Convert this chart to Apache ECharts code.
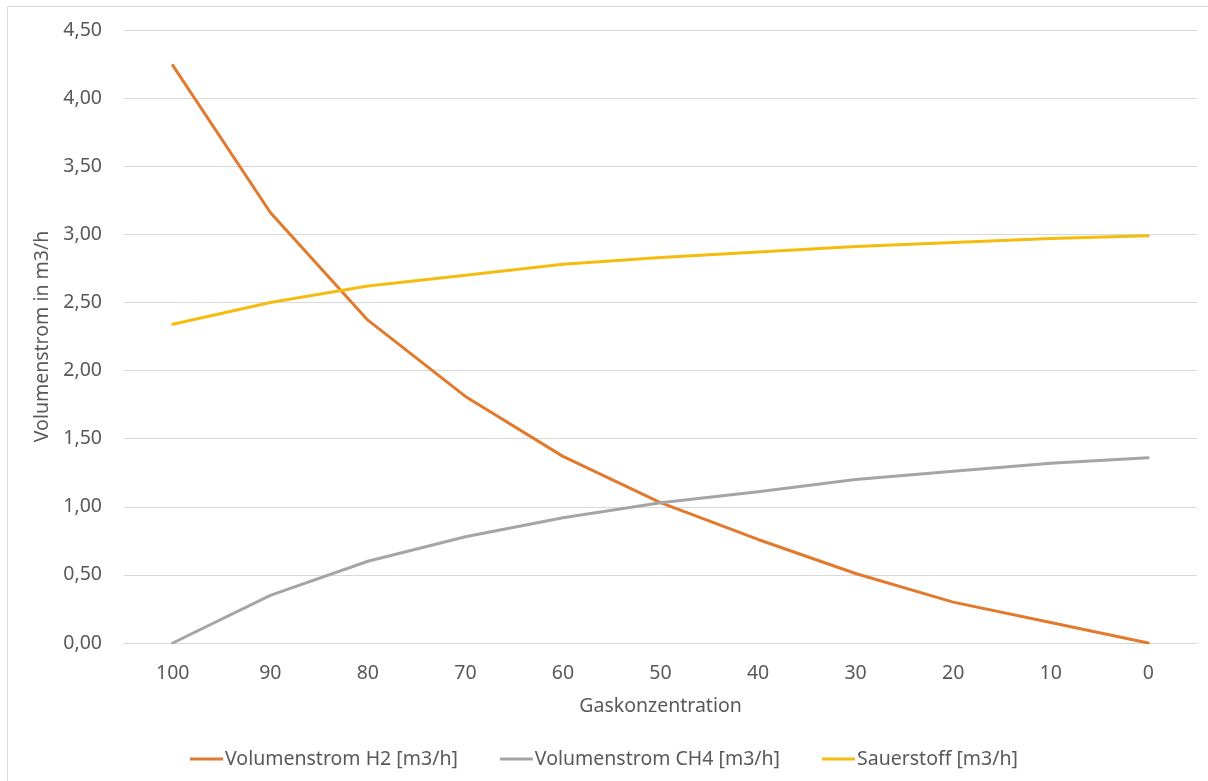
<!DOCTYPE html>
<html>
<head>
<meta charset="utf-8">
<script src="https://cdn.jsdelivr.net/npm/echarts@6/dist/echarts.min.js"></script>
<style>
  html, body { margin: 0; padding: 0; background: #fff; }
  #chart { width: 1208px; height: 781px; }
</style>
</head>
<body>
<div id="chart"></div>
<script>
// Gas concentration in percent (x axis, descending)
const categories = ['100', '90', '80', '70', '60', '50', '40', '30', '20', '10', '0'];

// Volume flows in m3/h
const h2Flow  = [4.24, 3.16, 2.37, 1.81, 1.37, 1.03, 0.76, 0.51, 0.30, 0.15, 0.00];
const ch4Flow = [0.00, 0.35, 0.60, 0.78, 0.92, 1.03, 1.11, 1.20, 1.26, 1.32, 1.36];
const o2Flow  = [2.34, 2.50, 2.62, 2.70, 2.78, 2.83, 2.87, 2.91, 2.94, 2.97, 2.99];

const seriesNames = ['Volumenstrom H2 [m3/h]', 'Volumenstrom CH4 [m3/h]', 'Sauerstoff [m3/h]'];
const colors = ['#E27A2E', '#A5A5A5', '#F5BC0F'];

const font = 'Noto Sans';
const textColor = '#595959';
const fontSize = 19.5;

const chart = echarts.init(document.getElementById('chart'), null, { renderer: 'canvas' });

const makeLine = (name, data, color) => ({
  name,
  type: 'line',
  data,
  symbol: 'none',
  smooth: false,
  lineStyle: { color, width: 3, cap: 'round', join: 'round' },
  itemStyle: { color }
});

chart.setOption({
  animation: false,
  backgroundColor: '#ffffff',
  color: colors,
  graphic: [{
    type: 'rect',
    shape: { x: 7.5, y: 6.5, width: 1300, height: 900 },
    style: { fill: 'none', stroke: '#d9d9d9', lineWidth: 1 },
    silent: true,
    z: -1
  }],
  grid: { left: 124, right: 11, top: 30, bottom: 138, containLabel: false },
  legend: {
    top: 744,
    left: 'center',
    icon: 'rect',
    itemWidth: 33,
    itemHeight: 3,
    itemGap: 42,
    textStyle: { fontFamily: font, fontSize: fontSize, color: textColor, padding: [0, 0, 0, -3] },
    data: seriesNames
  },
  xAxis: {
    type: 'category',
    data: categories,
    boundaryGap: true,
    name: 'Gaskonzentration',
    nameLocation: 'middle',
    nameGap: 53,
    nameTextStyle: { fontFamily: font, fontSize: fontSize, color: textColor },
    axisLine: { show: true, lineStyle: { color: '#d9d9d9' } },
    axisTick: { show: false },
    axisLabel: { fontFamily: font, fontSize: fontSize, color: textColor, margin: 20 }
  },
  yAxis: {
    type: 'value',
    min: 0,
    max: 4.5,
    interval: 0.5,
    name: 'Volumenstrom in m3/h',
    nameLocation: 'middle',
    nameGap: 69,
    nameTextStyle: { fontFamily: font, fontSize: fontSize, color: textColor },
    axisLine: { show: false },
    axisTick: { show: false },
    splitLine: { lineStyle: { color: '#d9d9d9', width: 1 } },
    axisLabel: {
      fontFamily: font,
      fontSize: fontSize,
      color: textColor,
      margin: 22,
      formatter: v => v.toFixed(2).replace('.', ',')
    }
  },
  series: [
    makeLine(seriesNames[0], h2Flow, colors[0]),
    makeLine(seriesNames[1], ch4Flow, colors[1]),
    makeLine(seriesNames[2], o2Flow, colors[2])
  ]
});
</script>
</body>
</html>
